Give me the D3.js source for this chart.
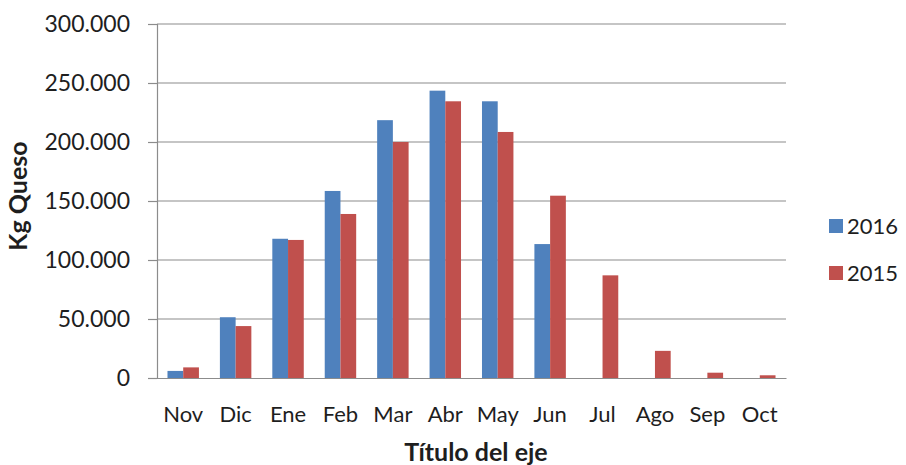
<!DOCTYPE html>
<html>
<head>
<meta charset="utf-8">
<script src="https://cdn.jsdelivr.net/npm/d3@7"></script>
<style>
  body { margin: 0; background: #fff; }
  text { font-family: Lato, "Open Sans", sans-serif; fill: #1e1e1e; }
</style>
</head>
<body>
<div id="chart"></div>
<script>
// Data
var months = ["Nov", "Dic", "Ene", "Feb", "Mar", "Abr", "May", "Jun", "Jul", "Ago", "Sep", "Oct"];
var kg2016 = [6000, 51500, 118000, 158500, 218500, 243500, 234500, 113500, null, null, null, null];
var kg2015 = [9000, 44000, 117000, 139000, 200000, 234500, 208500, 154500, 87000, 23000, 4500, 2300];
var yTicks = [0, 50000, 100000, 150000, 200000, 250000, 300000];
var seriesNames = ["2016", "2015"];
var colors = ["#4F81BD", "#C0504D"];

var margin = { left: 157, right: 120, top: 24, bottom: 87 };
var width = 906 - margin.left - margin.right;
var height = 465 - margin.top - margin.bottom;

var svg = d3.select("#chart").append("svg")
    .attr("width", 906)
    .attr("height", 465);

var g = svg.append("g")
    .attr("transform", "translate(" + margin.left + "," + margin.top + ")");

var x = d3.scaleBand().domain(months).range([0, width]).paddingInner(0.4).paddingOuter(0.2);
var xs = d3.scaleBand().domain(seriesNames).range([0, x.bandwidth()]);
var y = d3.scaleLinear().domain([0, 300000]).range([height, 0]);

var fmt = function(d){ return d3.format(",")(d).replace(/,/g, "."); };

// gridlines
g.selectAll(".grid").data(yTicks.slice(1)).enter().append("line")
    .attr("x1", 0).attr("x2", width)
    .attr("y1", function(d){ return y(d); })
    .attr("y2", function(d){ return y(d); })
    .attr("stroke", "#8c8c8c").attr("stroke-width", 1.2);

// bars
var rows = months.map(function(m, i){ return { m: m, v: [kg2016[i], kg2015[i]] }; });
var grp = g.selectAll(".grp").data(rows).enter().append("g")
    .attr("transform", function(d){ return "translate(" + x(d.m) + ",0)"; });
grp.selectAll("rect")
    .data(function(d){ return d.v.map(function(v, j){ return { s: seriesNames[j], v: v, c: colors[j] }; }).filter(function(e){ return e.v != null; }); })
    .enter().append("rect")
    .attr("x", function(d){ return xs(d.s); })
    .attr("width", xs.bandwidth())
    .attr("y", function(d){ return y(d.v); })
    .attr("height", function(d){ return height - y(d.v); })
    .attr("fill", function(d){ return d.c; });

// y axis
var yAxis = g.append("g").call(d3.axisLeft(y).tickValues(yTicks).tickSize(9).tickPadding(18).tickFormat(fmt));
yAxis.select(".domain").attr("stroke", "#8c8c8c").attr("stroke-width", 1.2);
yAxis.selectAll(".tick line").attr("stroke", "#8c8c8c").attr("stroke-width", 1.2);
yAxis.selectAll("text").attr("font-size", "23px").style("font-family", "Lato, sans-serif").attr("fill", "#1e1e1e");

// x axis
var xAxis = g.append("g").attr("transform", "translate(0," + height + ")")
    .call(d3.axisBottom(x).tickSize(0).tickPadding(28));
xAxis.select(".domain").attr("stroke", "#8c8c8c").attr("stroke-width", 1.2);
xAxis.selectAll("text").attr("font-size", "22px").style("font-family", "Lato, sans-serif").attr("fill", "#1e1e1e");

// axis labels
g.append("text")
    .attr("transform", "rotate(-90)")
    .attr("x", -172)
    .attr("y", -130)
    .attr("text-anchor", "middle")
    .attr("font-size", "25px")
    .attr("font-weight", "bold")
    .text("Kg Queso");
g.append("text")
    .attr("x", 476 - margin.left)
    .attr("y", height + 83)
    .attr("text-anchor", "middle")
    .attr("font-size", "25px")
    .attr("font-weight", "bold")
    .text("Título del eje");

// legend
var legend = svg.selectAll(".legend").data(seriesNames).enter().append("g")
    .attr("transform", function(d, i){ return "translate(829," + (219 + i * 47) + ")"; });
legend.append("rect").attr("width", 14).attr("height", 14)
    .attr("fill", function(d, i){ return colors[i]; });
legend.append("text").attr("x", 18).attr("y", 7).attr("dy", "0.36em")
    .attr("font-size", "22px").text(function(d){ return d; });
</script>
</body>
</html>
